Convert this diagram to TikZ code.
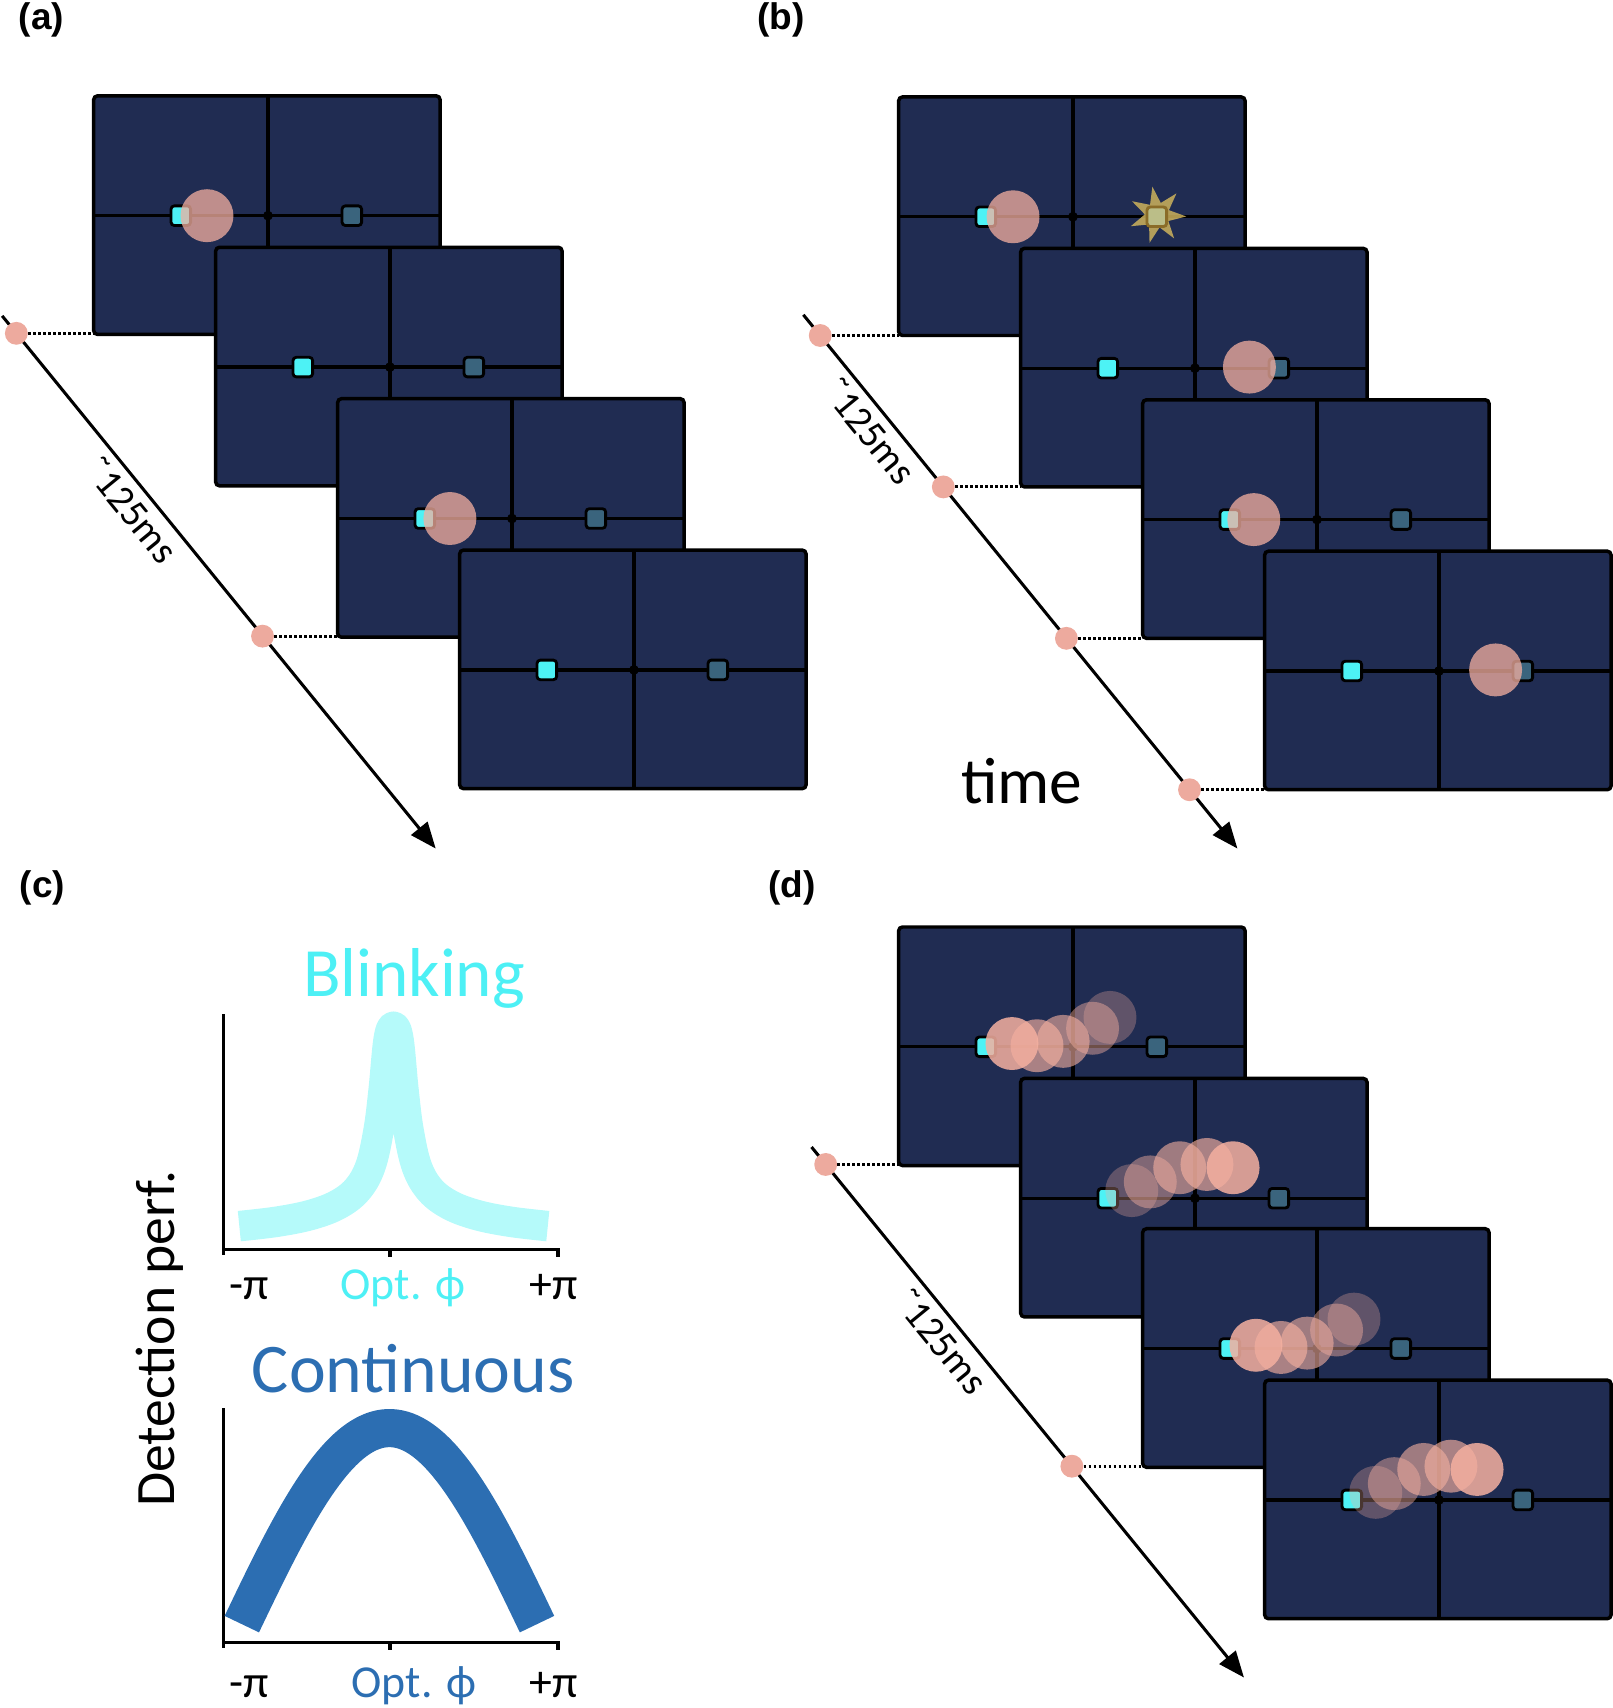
\documentclass[tikz,border=0pt]{standalone}
\usepackage{fontspec}
\setmainfont{Carlito}
\newfontfamily\labfont{Liberation Sans}
\usetikzlibrary{shapes.geometric,arrows.meta}

\definecolor{navy}{HTML}{202C52}
\definecolor{cyanbox}{HTML}{4DF2F5}
\definecolor{tealbox}{HTML}{3A647D}
\definecolor{pinkc}{HTML}{F5B0A0}
\definecolor{dotpink}{HTML}{EDAA9E}
\definecolor{blinkc}{HTML}{4DF0F5}
\definecolor{blinkcurve}{HTML}{B5FAFA}
\definecolor{contc}{HTML}{2C6EB2}
\definecolor{starc}{HTML}{CDB25C}
\definecolor{olivesq}{HTML}{BBBE88}
\definecolor{olivebd}{HTML}{8A6C28}

\tikzset{
  screen/.style={draw=black, fill=navy, line width=3.2pt, rounded corners=3.5pt,
    minimum width=318pt, minimum height=219pt, inner sep=0pt, outer sep=0pt, anchor=north west},
  crossline/.style={line width=3pt, black},
  sqbox/.style={draw=black, line width=2.6pt, rounded corners=3pt, minimum size=18pt, inner sep=0pt},
  cyansq/.style={sqbox, fill=cyanbox},
  tealsq/.style={sqbox, fill=tealbox},
  tdot/.style={circle, fill=dotpink, minimum size=21pt, inner sep=0pt},
  timeaxis/.style={line width=2.8pt, -{Triangle[length=24pt,width=19pt]}},
  dotline/.style={line width=2.8pt, dash pattern=on 2.4pt off 2.2pt},
  msl/.style={font=\fontsize{36}{36}\selectfont, rotate=-50.8, inner sep=0pt},
  panlab/.style={font=\labfont\bfseries\fontsize{34}{34}\selectfont, inner sep=0pt},
  ticklab/.style={font=\fontsize{42}{42}\selectfont, inner sep=0pt, anchor=base},
  axisline/.style={line width=3.3pt, black},
  blinkline/.style={line width=28pt, blinkcurve, line join=round},
  contline/.style={line width=35pt, contc, line join=round},
}

\newcommand{\drawscreen}[3]{%
  \node[screen] (#1) at (#2,#3) {};
  \draw[crossline] ({#2},{#3+110}) -- ({#2+318},{#3+110});
  \draw[crossline] ({#2+160},{#3}) -- ({#2+160},{#3+219});
  \fill ({#2+160},{#3+110}) circle (4.5pt);
  \node[cyansq] (#1c) at ({#2+80},{#3+110}) {};
  \node[tealsq] (#1t) at ({#2+237},{#3+110}) {};
}
\newcommand{\stimat}[5]{\fill[pinkc, fill opacity=#5] ({#1+#3},{#2+#4}) circle (24.3pt);}
\newcommand{\trailleft}[2]{%
  \stimat{#1}{#2}{194}{83}{0.3}
  \stimat{#1}{#2}{178}{93}{0.45}
  \stimat{#1}{#2}{151}{105}{0.6}
  \stimat{#1}{#2}{127}{109}{0.65}
  \stimat{#1}{#2}{104}{107}{0.85}}
\newcommand{\trailright}[2]{%
  \stimat{#1}{#2}{102}{103}{0.3}
  \stimat{#1}{#2}{119}{95}{0.45}
  \stimat{#1}{#2}{146}{82}{0.6}
  \stimat{#1}{#2}{171}{79}{0.65}
  \stimat{#1}{#2}{195}{82}{0.85}}

\begin{document}
\begin{tikzpicture}[x=1pt,y=-1pt]
\useasboundingbox (0,0) rectangle (1480,1568);

% panel labels
\node[panlab] (la) at (38,18) {(a)};
\node[panlab] (lb) at (717,18) {(b)};
\node[panlab] (lc) at (39,815) {(c)};
\node[panlab] (ld) at (727,815) {(d)};

% ---------------- panel (a)
\drawscreen{a1}{86}{88}
\stimat{86}{88}{104}{110}{0.75}
\drawscreen{a2}{198}{227}
\drawscreen{a3}{310}{366}
\stimat{310}{366}{103}{110}{0.75}
\drawscreen{a4}{422}{505}

\coordinate (aS) at (2,290);
\coordinate (aE) at (400,779);
\draw[timeaxis] (aS) -- (aE);
\node[tdot] (ad1) at (15,306) {};
\node[tdot] (ad2) at (241,584) {};
\draw[dotline] (ad1.east) -- (ad1 -| a1.west);
\draw[dotline] (ad2.east) -- (ad2 -| a3.west);
\node[msl] (am) at (120.4,468) {˜125ms};

% ---------------- panel (b)
\drawscreen{b1}{825}{89}
\node[star, star points=7, star point ratio=2.3, minimum size=53pt, inner sep=0pt,
      shape border rotate=10, fill=starc, fill opacity=0.85] (bstar) at (1062.5,197.4) {};
\node[sqbox, fill=olivesq, draw=olivebd] (bsq) at (1062,199) {};
\stimat{825}{89}{105}{110}{0.75}
\drawscreen{b2}{937}{228}
\stimat{937}{228}{210}{109}{0.75}
\drawscreen{b3}{1049}{367}
\stimat{1049}{367}{102}{110}{0.75}
\drawscreen{b4}{1161}{506}
\stimat{1161}{506}{212}{109}{0.75}

\coordinate (bS) at (737.5,289);
\coordinate (bE) at (1136,779);
\draw[timeaxis] (bS) -- (bE);
\node[tdot] (bd1) at (753,308) {};
\node[tdot] (bd2) at (866,447) {};
\node[tdot] (bd3) at (979,586) {};
\node[tdot] (bd4) at (1092,725) {};
\draw[dotline] (bd1.east) -- (bd1 -| b1.west);
\draw[dotline] (bd2.east) -- (bd2 -| b2.west);
\draw[dotline] (bd3.east) -- (bd3 -| b3.west);
\draw[dotline] (bd4.east) -- (bd4 -| b4.west);
\node[msl] (bm) at (798,395.5) {˜125ms};
\node[font=\fontsize{60}{60}\selectfont, inner sep=0pt, anchor=base] (btime) at (938,737.5) {time};

% ---------------- panel (c)
\node[anchor=base west, inner sep=0pt, text=blinkc, font=\fontsize{63.5}{63.5}\selectfont] (blink) at (278,915) {Blinking};
\draw[axisline] (205,931) -- (205,1152);
\draw[axisline] (205,1147) -- (512,1147) -- (512,1154);
\draw[axisline] (358,1147) -- (358,1154);
\draw[blinkline] plot[smooth, tension=0.6] coordinates {(219.7,1125.6) (254,1121.6) (284.6,1115.5) (309.3,1106.3) (327.6,1092.5) (339.9,1071.1) (347.6,1037.4) (352.2,1000.7) (356.7,954.8) (361.3,942.6) (365.9,954.8) (370.4,1000.7) (375,1037.4) (382.7,1071.1) (395,1092.5) (413.3,1106.3) (438,1115.5) (468.6,1121.6) (502.9,1125.6)};
\node[ticklab] (u1) at (229,1193) {-π};
\node[ticklab, text=blinkc] (u2) at (370,1193) {Opt. ϕ};
\node[ticklab] (u3) at (508,1193) {+π};

\node[anchor=base, rotate=90, inner sep=0pt, font=\fontsize{51}{51}\selectfont] (det) at (160,1229) {Detection perf.};

\node[anchor=base west, inner sep=0pt, text=contc, font=\fontsize{64}{64}\selectfont] (cont) at (231,1278) {Continuous};
\draw[axisline] (205,1293) -- (205,1513);
\draw[axisline] (205,1508) -- (512,1508) -- (512,1515);
\draw[axisline] (358,1508) -- (358,1515);
\draw[contline] plot[domain=-135.5:135.5, samples=80, smooth] ({357.5+\x},{1491-180*cos(\x/271*180)});
\node[ticklab] (l1) at (229,1558) {-π};
\node[ticklab, text=contc] (l2) at (380,1558) {Opt. ϕ};
\node[ticklab] (l3) at (508,1558) {+π};

% ---------------- panel (d)
\drawscreen{d1}{825}{851}
\trailleft{825}{851}
\drawscreen{d2}{937}{990}
\trailright{937}{990}
\drawscreen{d3}{1049}{1128}
\trailleft{1049}{1128}
\drawscreen{d4}{1161}{1267}
\trailright{1161}{1267}

\coordinate (dS) at (745,1053);
\coordinate (dE) at (1142,1540);
\draw[timeaxis] (dS) -- (dE);
\node[tdot] (dd1) at (758,1069) {};
\node[tdot] (dd2) at (984,1346) {};
\draw[dotline] (dd1.east) -- (dd1 -| d1.west);
\draw[dotline] (dd2.east) -- (dd2 -| d3.west);
\node[msl] (dm) at (863.5,1231) {˜125ms};
\end{tikzpicture}
\end{document}
